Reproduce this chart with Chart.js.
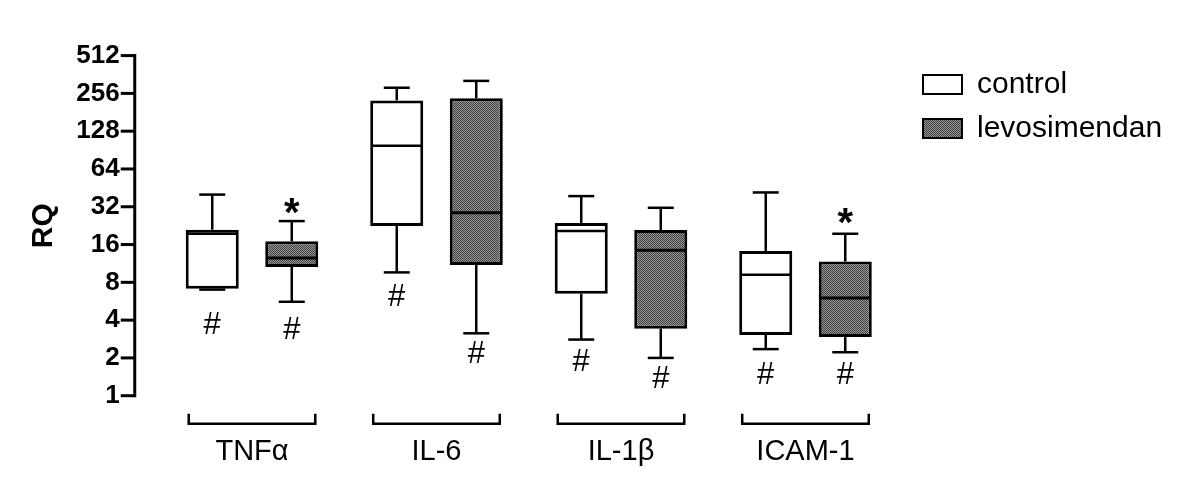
<!DOCTYPE html>
<html>
<head>
<meta charset="utf-8">
<script src="https://cdn.jsdelivr.net/npm/chart.js@4.4.1/dist/chart.umd.min.js"></script>
<style>
  html, body { margin: 0; padding: 0; background: #fff; }
  #wrap { width: 1200px; height: 498px; }
</style>
</head>
<body>
<div id="wrap"><canvas id="chart"></canvas></div>
<script>
const categories = ['TNFα', 'IL-6', 'IL-1β', 'ICAM-1'];
const seriesNames = ['control', 'levosimendan'];
const yTicks = [1, 2, 4, 8, 16, 32, 64, 128, 256, 512];

// box plot values (RQ)
const controlMin    = [7.0, 9.6, 2.8, 2.35];
const controlQ1     = [7.1, 22.5, 6.5, 3.05];
const controlMedian = [19.5, 98, 20.5, 9.2];
const controlQ3     = [21, 225, 23.8, 14.2];
const controlMax    = [40, 284, 38.9, 41.6];

const levoMin    = [5.6, 3.14, 2.0, 2.22];
const levoQ1     = [10.6, 11, 3.42, 2.93];
const levoMedian = [12.5, 28.7, 14.4, 6.0];
const levoQ3     = [17, 234, 20.9, 11.7];
const levoMax    = [24.6, 322, 31.4, 19.5];

// significance marks, anchored at RQ values
const controlHash = [3.6, 6.07, 1.85, 1.45];
const levoHash    = [3.3, 2.15, 1.34, 1.45];
const levoStar    = [27.5, null, null, 22.8];

const FONT = "'Liberation Sans', Arial, sans-serif";

// dotted grey fill like the printed figure
function dotPattern() {
  const c = document.createElement('canvas');
  c.width = 2; c.height = 2;
  const g = c.getContext('2d');
  g.fillStyle = '#9a9a9a';
  g.fillRect(0, 0, 2, 2);
  g.fillStyle = '#3c3c3c';
  g.fillRect(0, 0, 1, 1);
  g.fillRect(1, 1, 1, 1);
  return g.createPattern(c, 'repeat');
}

const stats = [
  { min: controlMin, med: controlMedian, max: controlMax, q1: controlQ1, q3: controlQ3, hash: controlHash, star: null, medWidth: 2.5 },
  { min: levoMin, med: levoMedian, max: levoMax, q1: levoQ1, q3: levoQ3, hash: levoHash, star: levoStar, medWidth: 3 }
];

function line(ctx, x1, y1, x2, y2) {
  ctx.beginPath();
  ctx.moveTo(x1, y1);
  ctx.lineTo(x2, y2);
  ctx.stroke();
}

const boxPlot = {
  id: 'boxPlot',
  afterLayout(chart) {
    // legend sits a bit right of the plot, as in the original
    const lg = chart.legend;
    const dy = 55.5 - lg.top;
    lg.left = 909;
    lg.right = chart.width;
    lg.top += dy; lg.bottom += dy;
  },
  afterDatasetsDraw(chart) {
    const { ctx, chartArea, scales: { y } } = chart;
    ctx.save();
    ctx.strokeStyle = '#000';
    ctx.fillStyle = '#000';
    ctx.textAlign = 'center';
    ctx.textBaseline = 'middle';

    stats.forEach((s, d) => {
      const meta = chart.getDatasetMeta(d);
      meta.data.forEach((bar, i) => {
        const x = bar.x, half = bar.width / 2;
        const yMin = y.getPixelForValue(s.min[i]);
        const yMax = y.getPixelForValue(s.max[i]);
        const yQ1 = y.getPixelForValue(s.q1[i]);
        const yQ3 = y.getPixelForValue(s.q3[i]);
        const yMed = y.getPixelForValue(s.med[i]);

        ctx.lineWidth = 2.5;
        line(ctx, x, yQ3, x, yMax);
        line(ctx, x, yQ1, x, yMin);
        line(ctx, x - 13, yMax, x + 13, yMax);
        line(ctx, x - 13, yMin, x + 13, yMin);

        ctx.lineWidth = s.medWidth;
        line(ctx, x - half + 2, yMed, x + half - 2, yMed);

        ctx.font = '31px ' + FONT;
        ctx.fillText('#', x, y.getPixelForValue(s.hash[i]));
        if (s.star && s.star[i]) {
          ctx.font = 'bold 40px ' + FONT;
          ctx.fillText('*', x, y.getPixelForValue(s.star[i]));
        }
      });
    });

    // brackets under each group
    const m0 = chart.getDatasetMeta(0), m1 = chart.getDatasetMeta(1);
    const by = chartArea.bottom + 28;
    ctx.lineWidth = 2.5;
    m0.data.forEach((b0, i) => {
      const b1 = m1.data[i];
      const l = b0.x - b0.width / 2 + 3;
      const r = b1.x + b1.width / 2 - 3;
      ctx.beginPath();
      ctx.moveTo(l, by - 10);
      ctx.lineTo(l, by);
      ctx.lineTo(r, by);
      ctx.lineTo(r, by - 10);
      ctx.stroke();
    });

    // y axis line with tick marks, set off from the plot
    const ax = chartArea.left - 25;
    ctx.lineWidth = 3;
    line(ctx, ax, y.getPixelForValue(yTicks[0]) + 1.5, ax, y.getPixelForValue(yTicks[yTicks.length - 1]) - 1.5);
    yTicks.forEach(v => {
      const py = y.getPixelForValue(v);
      line(ctx, ax - 14, py, ax, py);
    });
    ctx.restore();
  }
};

const levoFill = dotPattern();

new Chart(document.getElementById('chart'), {
  type: 'bar',
  data: {
    labels: categories,
    datasets: [
      {
        label: seriesNames[0],
        data: controlQ1.map((v, i) => [v, controlQ3[i]]),
        backgroundColor: '#fff'
      },
      {
        label: seriesNames[1],
        data: levoQ1.map((v, i) => [v, levoQ3[i]]),
        backgroundColor: levoFill
      }
    ]
  },
  options: {
    responsive: true,
    maintainAspectRatio: false,
    animation: false,
    layout: { padding: { top: 53.3, right: 52.25, bottom: 0, left: 0 } },
    datasets: {
      bar: {
        borderColor: '#000',
        borderWidth: 3,
        borderSkipped: false,
        categoryPercentage: 0.862,
        barPercentage: 0.667
      }
    },
    plugins: {
      tooltip: { enabled: false },
      legend: {
        position: 'right',
        align: 'start',
        maxWidth: 250,
        labels: {
          color: '#000',
          font: { family: FONT, size: 30 },
          boxWidth: 39,
          boxHeight: 19,
          padding: 14,
          generateLabels(chart) {
            return Chart.defaults.plugins.legend.labels.generateLabels(chart)
              .map(l => Object.assign(l, { lineWidth: 2 }));
          }
        }
      }
    },
    scales: {
      x: {
        type: 'category',
        grid: { display: false, drawTicks: false },
        border: { display: false },
        ticks: {
          color: '#000',
          font: { family: FONT, size: 29 },
          padding: 39,
          maxRotation: 0
        },
        afterFit(scale) { scale.height = 102.3; }
      },
      y: {
        type: 'logarithmic',
        min: 1,
        max: 512,
        bounds: 'data',
        grid: { display: false, drawTicks: false },
        border: { display: false },
        ticks: {
          color: '#000',
          font: { family: FONT, size: 26, weight: 'bold' },
          padding: 40,
          callback: v => String(v)
        },
        afterBuildTicks(scale) {
          scale.ticks = yTicks.map(v => ({ value: v }));
        },
        title: {
          display: true,
          text: 'RQ',
          color: '#000',
          font: { family: FONT, size: 30, weight: 'bold' },
          padding: { top: 26, bottom: 0 }
        },
        afterFit(scale) { scale.width = 159.75; }
      }
    }
  },
  plugins: [boxPlot]
});
</script>
</body>
</html>
